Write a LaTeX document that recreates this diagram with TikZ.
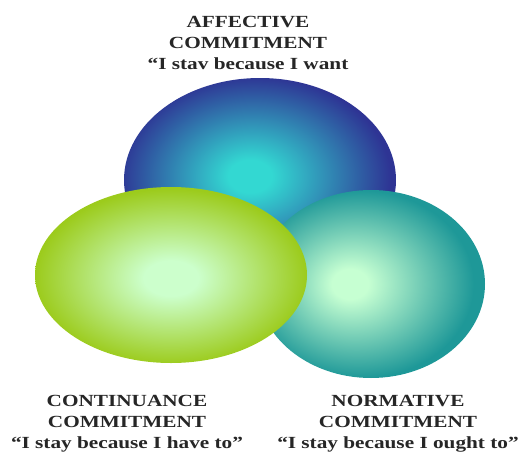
\documentclass[tikz,border=0pt]{standalone}
\usepackage{fontspec}
\setmainfont{Liberation Serif}[FakeStretch=1.25]
\usepackage{tikz}
\usetikzlibrary{shapes.geometric}
\definecolor{affout}{HTML}{2E3494}
\definecolor{affin}{HTML}{33D8D2}
\definecolor{conout}{HTML}{9CCB1C}
\definecolor{conin}{HTML}{CCFFCC}
\definecolor{norout}{HTML}{1E9898}
\definecolor{norin}{HTML}{C6FFD2}
\pgfdeclareradialshading{affshade}{\pgfpoint{-2bp}{1bp}}{color(0bp)=(affin); color(4bp)=(affin); color(25bp)=(affout); color(50bp)=(affout)}
\pgfdeclareradialshading{conshade}{\pgfpoint{0bp}{-1bp}}{color(0bp)=(conin); color(5bp)=(conin); color(25bp)=(conout); color(50bp)=(conout)}
\pgfdeclareradialshading{norshade}{\pgfpoint{-5bp}{0bp}}{color(0bp)=(norin); color(4bp)=(norin); color(25bp)=(norout); color(50bp)=(norout)}

\begin{document}
\begin{tikzpicture}[x=1pt, y=-1pt,
    blob/.style={ellipse, inner sep=0pt, draw=none},
    caption/.style={align=center, font=\bfseries\fontsize{17}{21}\selectfont, text=black!85}
]
    \useasboundingbox (0,0) rectangle (528,453);

    \node[blob, minimum width=272pt, minimum height=204pt, shading=affshade] (affective) at (260,180) {};
    \node[blob, minimum width=228pt, minimum height=188pt, shading=norshade] (normative) at (371,284) {};
    \node[blob, minimum width=272pt, minimum height=176pt, shading=conshade] (continuance) at (171,275) {};

    \node[caption] (affectivetext) at (248,43) {AFFECTIVE\\COMMITMENT\\``I stav because I want};
    \node[caption] (continuancetext) at (127,424) {CONTINUANCE\\COMMITMENT\\``I stay because I have to''};
    \node[caption] (normativetext) at (398,424) {NORMATIVE\\COMMITMENT\\``I stay because I ought to''};
\end{tikzpicture}
\end{document}
